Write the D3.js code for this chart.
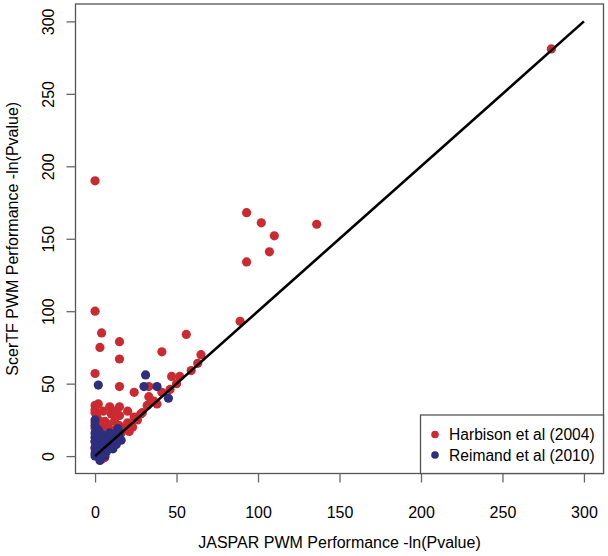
<!DOCTYPE html>
<html>
<head>
<meta charset="utf-8">
<script src="https://d3js.org/d3.v7.min.js"></script>
<style>
  body { margin: 0; background: #fff; }
  text { font-family: "Liberation Sans", Arial, Helvetica, sans-serif; fill: #000; }
</style>
</head>
<body>
<script>
// 數據 (從圖上估計)
var harbison = [
  [280,281],[0,190],[93,168],[102,161],[110,152],[136,160],[107,141],[93,134],
  [0,100],[4,85],[15,79],[3,75],[56,84],[89,93],[41,72],[15,67],[65,70],[63,64],
  [59,59],[0,57],[15,48],[47,55],[52,55],[50,50],[46,46],[41,44],[24,44],[33,41],
  [33,48],[32,35],[38,36],[0,35],[2,36],[9,34],[15,34],[20,31],[0,30],[5,31],
  [10,29],[15,28],[24,27],[28,29],[0,23],[2,25],[6,24],[12,24],[15,21],[20,23],
  [23,20],[0,19],[6,19],[10,18],[16,16],[2,13],[0,32],[1,27],[3,21],[8,22],
  [12,31],[18,19],[21,17],[26,25],[29,30],[36,38],[0,10],[5,12],[13,14],[0,5],
  [6,-1],[4,-2]
];
var reimand = [
  [2,49],[31,56],[30,48],[38,48],[45,40],[0,25],[0,21],[9,16],[14,19],[15,16],
  [8,6],[12,9],[0,6],[0,2],[2,3],[4,-0.5],[0,13],[0,10],[0,16],[3,8],[5,5],
  [2,11],[6,12],[4,15],[10,12],[14,14],[16,11],[7,3],[3,1],[1,7],[5,9],[0,0],
  [11,5],[13,8],[6,0],[2,18],[8,10],[11,15],[1,14],[3,-3]
];
var xTicks = [0, 50, 100, 150, 200, 250, 300];
var yTicks = [0, 50, 100, 150, 200, 250, 300];
var legendLabels = ["Harbison et al (2004)", "Reimand et al (2010)"];
var colors = ["#CB2A30", "#2D2F7E"];

var width = 608, height = 556;
var pLeft = 75.5, pRight = 603.5, pTop = 4, pBottom = 473.5;

var svg = d3.select("body")
  .append("svg")
  .attr("width", width)
  .attr("height", height);

var x = d3.scaleLinear().domain([-12, 312]).range([pLeft, pRight]);
var y = d3.scaleLinear().domain([-12, 312]).range([pBottom, pTop]);

// 點
[harbison, reimand].forEach(function(set, i) {
  svg.append("g")
    .selectAll("circle")
    .data(set)
    .enter()
    .append("circle")
    .attr("cx", function(d) { return x(d[0]); })
    .attr("cy", function(d) { return y(d[1]); })
    .attr("r", 4.6)
    .attr("fill", colors[i]);
});

// y = x 參考線
svg.append("line")
  .attr("x1", x(0)).attr("y1", y(0))
  .attr("x2", x(300)).attr("y2", y(300))
  .attr("stroke", "#000")
  .attr("stroke-width", 2.6);

// 外框
svg.append("rect")
  .attr("x", pLeft).attr("y", pTop)
  .attr("width", pRight - pLeft).attr("height", pBottom - pTop)
  .attr("fill", "none")
  .attr("stroke", "#555")
  .attr("stroke-width", 1.3);

// x 軸
var xAxis = svg.append("g")
  .attr("transform", "translate(0," + pBottom + ")")
  .call(d3.axisBottom(x).tickValues(xTicks).tickSize(9).tickPadding(24));
xAxis.select(".domain").remove();
xAxis.selectAll("line").attr("stroke", "#666").attr("stroke-width", 1.3);
xAxis.selectAll("text")
  .attr("font-size", 16)
  .attr("font-family", "Liberation Sans, Arial, sans-serif")
  .attr("fill", "#000");

// y 軸 (旋轉的刻度標籤)
var yAxis = svg.append("g")
  .attr("transform", "translate(" + pLeft + ",0)")
  .call(d3.axisLeft(y).tickValues(yTicks).tickSize(9));
yAxis.select(".domain").remove();
yAxis.selectAll("line").attr("stroke", "#666").attr("stroke-width", 1.3);
yAxis.selectAll("text")
  .attr("x", null).attr("dy", null)
  .attr("transform", "translate(" + (54 - pLeft) + ",0) rotate(-90)")
  .attr("text-anchor", "middle")
  .attr("font-size", 16)
  .attr("font-family", "Liberation Sans, Arial, sans-serif")
  .attr("fill", "#000");

// 軸標題
svg.append("text")
  .attr("x", (pLeft + pRight) / 2)
  .attr("y", 547.5)
  .attr("text-anchor", "middle")
  .attr("font-size", 16)
  .text("JASPAR PWM Performance -ln(Pvalue)");

svg.append("text")
  .attr("transform", "translate(18," + (pTop + pBottom) / 2 + ") rotate(-90)")
  .attr("text-anchor", "middle")
  .attr("font-size", 16)
  .text("ScerTF PWM Performance -ln(Pvalue)");

// 圖例
var legend = svg.append("g");
legend.append("rect")
  .attr("x", 420.5).attr("y", 415)
  .attr("width", pRight - 420.5).attr("height", pBottom - 415)
  .attr("fill", "#fff")
  .attr("stroke", "#555")
  .attr("stroke-width", 1.3);

var item = legend.selectAll("g.item")
  .data(legendLabels)
  .enter()
  .append("g")
  .attr("class", "item")
  .attr("transform", function(d, i) {
    return "translate(0," + (434.5 + i * 20.5) + ")";
  });
item.append("circle")
  .attr("cx", 435).attr("cy", 0).attr("r", 3.8)
  .attr("fill", function(d, i) { return colors[i]; });
item.append("text")
  .attr("x", 449)
  .attr("y", 5.8)
  .attr("font-size", 15.6)
  .text(function(d) { return d; });
</script>
</body>
</html>
